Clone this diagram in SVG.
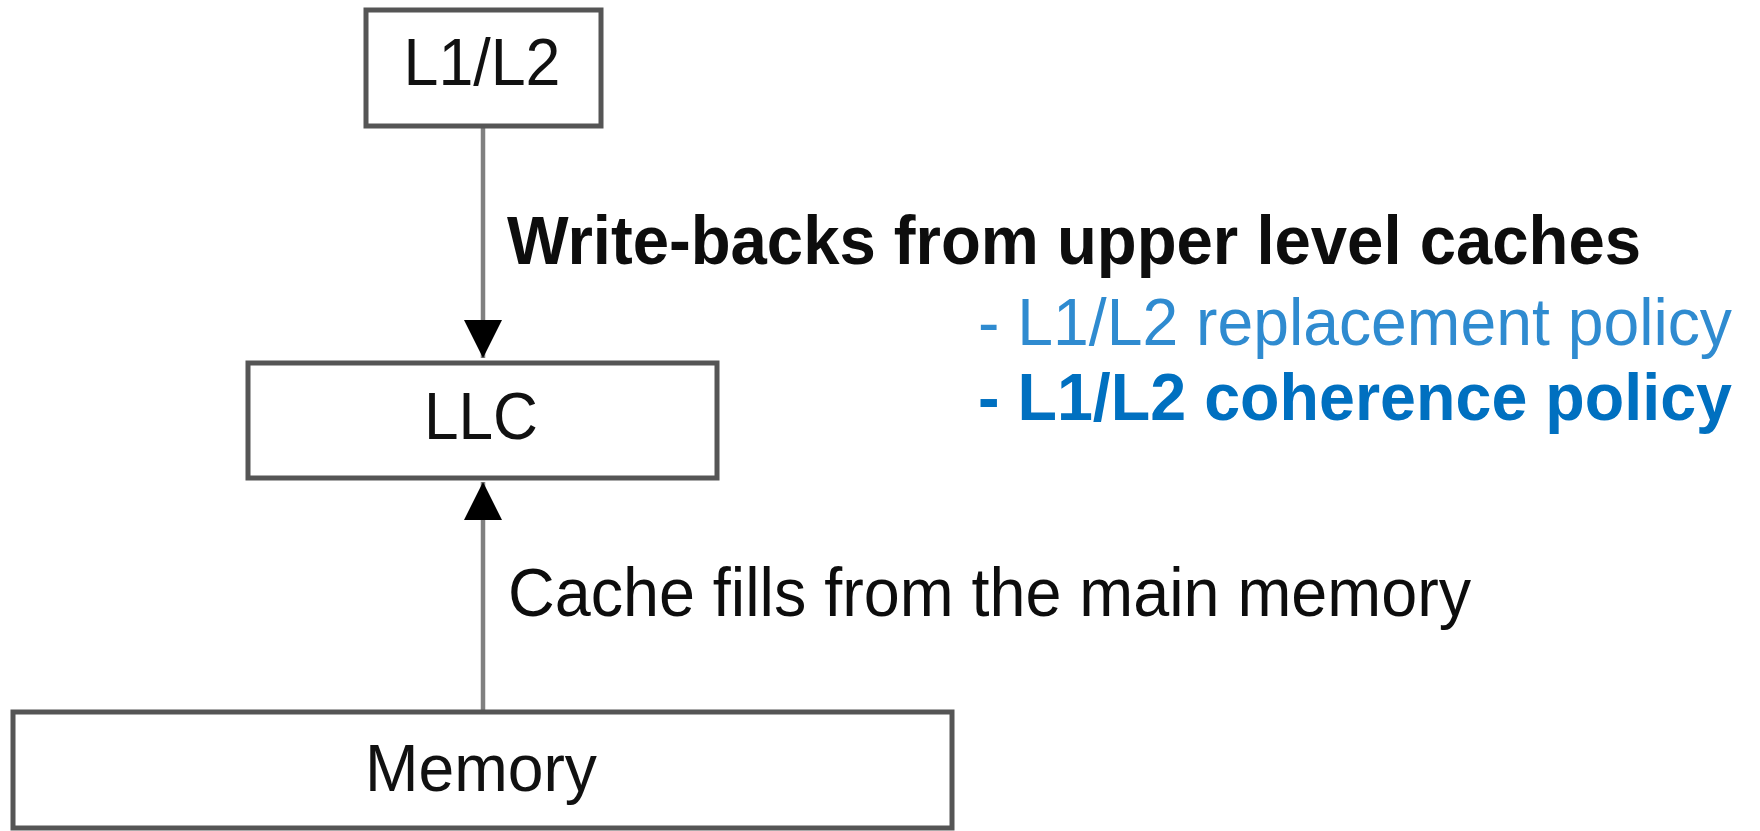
<svg xmlns="http://www.w3.org/2000/svg" width="1760" height="831" viewBox="0 0 1760 831">
<style>
.box{fill:#ffffff;stroke:#555555;stroke-width:5}
.lbl{font-family:"Liberation Sans",Arial,sans-serif;font-size:67px;fill:#111;text-anchor:middle}
.note{font-family:"Liberation Sans",Arial,sans-serif;font-size:68px;fill:#0d0d0d}
.conn{stroke:#808080;stroke-width:4.5;fill:none}
</style>
<defs>
<marker id="ah" markerUnits="userSpaceOnUse" markerWidth="44" markerHeight="40" refX="38" refY="20" orient="auto" viewBox="0 0 44 40">
<path d="M0,1 L38,20 L0,39 Z" fill="#000"/>
</marker>
</defs>
<rect width="1760" height="831" fill="#ffffff"/>
<g id="connectors">
<line class="conn" x1="483" y1="127" x2="483" y2="358" marker-end="url(#ah)"/>
<line class="conn" x1="483" y1="712" x2="483" y2="482" marker-end="url(#ah)"/>
</g>
<g id="node-l1l2">
<rect class="box" x="366" y="10" width="235" height="116"/>
<text class="lbl" x="482" y="85" textLength="157" lengthAdjust="spacingAndGlyphs">L1/L2</text>
</g>
<g id="node-llc">
<rect class="box" x="248" y="363" width="469" height="115"/>
<text class="lbl" x="481" y="439" textLength="114" lengthAdjust="spacingAndGlyphs">LLC</text>
</g>
<g id="node-memory">
<rect class="box" x="13" y="712" width="939" height="116"/>
<text class="lbl" x="481" y="791" textLength="232" lengthAdjust="spacingAndGlyphs">Memory</text>
</g>
<g id="labels">
<text class="note" x="507" y="264" font-weight="bold" textLength="1134" lengthAdjust="spacingAndGlyphs">Write-backs from upper level caches</text>
<text class="note" x="978" y="345" style="fill:#2f8bd0;font-size:66px" textLength="754" lengthAdjust="spacingAndGlyphs">- L1/L2 replacement policy</text>
<text class="note" x="978" y="420" font-weight="bold" style="fill:#0070c0;font-size:66px" textLength="754" lengthAdjust="spacingAndGlyphs">- L1/L2 coherence policy</text>
<text class="note" x="508" y="616" textLength="963" lengthAdjust="spacingAndGlyphs">Cache fills from the main memory</text>
</g>
</svg>
